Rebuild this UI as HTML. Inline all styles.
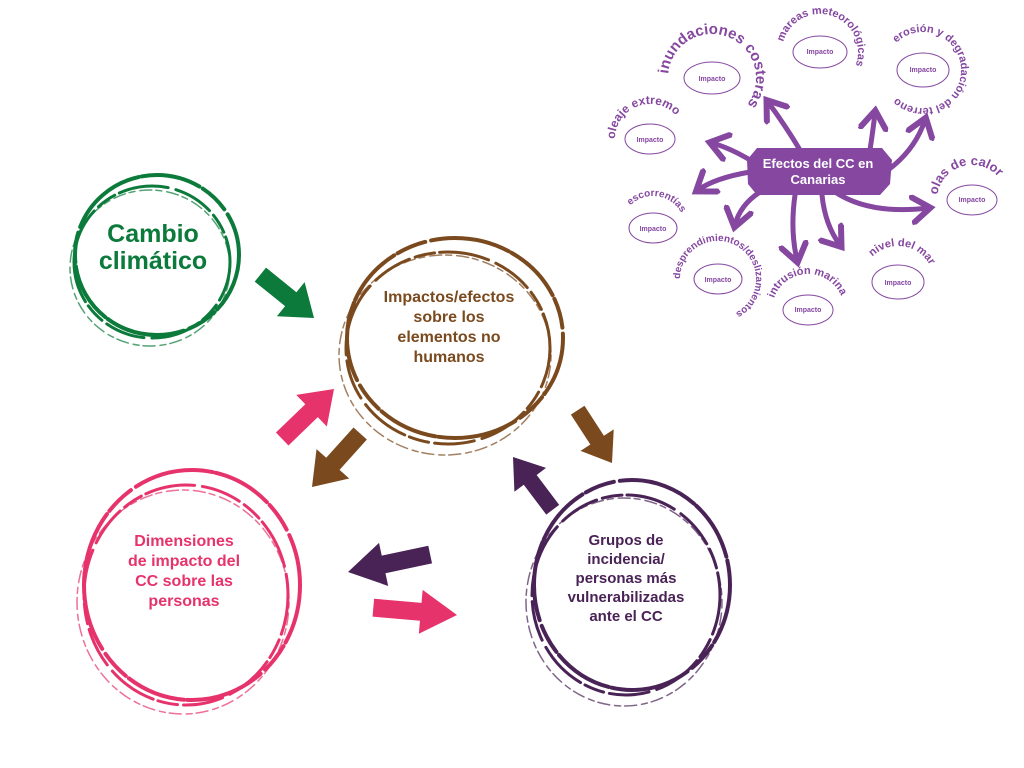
<!DOCTYPE html>
<html><head><meta charset="utf-8"><style>
html,body{margin:0;padding:0;background:#fff;width:1024px;height:768px;overflow:hidden}
svg text{font-family:"Liberation Sans",sans-serif;font-weight:bold}
</style></head><body>
<svg width="1024" height="768" viewBox="0 0 1024 768" xmlns="http://www.w3.org/2000/svg">
<defs>
<path id="ar" d="M0,0 L-26,-22 L-26,-9 L-60,-9 L-60,9 L-26,9 L-26,22 Z"/>
<marker id="mh" markerWidth="6" markerHeight="6" refX="3.5" refY="3" orient="auto" markerUnits="strokeWidth">
<path d="M0.5,0.5 L4,3 L0.5,5.5" fill="none" stroke="#8547a0" stroke-width="1.2" stroke-linecap="round"/></marker>
</defs>

<!-- Sketchy circles -->
<g fill="none" stroke="#0b7a3a" stroke-linecap="round">
<ellipse cx="157" cy="255" rx="82" ry="80" stroke-width="4" stroke-dasharray="60 4 30 6 80 3"/>
<ellipse cx="152" cy="262" rx="78" ry="76" stroke-width="3" stroke-dasharray="40 6 20 5 50 8"/>
<ellipse cx="150" cy="268" rx="80" ry="78" stroke-width="1.5" stroke-dasharray="6 5 12 4" opacity=".7"/>
</g>
<g fill="none" stroke="#7a4a1e" stroke-linecap="round">
<ellipse cx="455" cy="338" rx="108" ry="100" stroke-width="4" stroke-dasharray="60 4 30 6 80 3"/>
<ellipse cx="448" cy="348" rx="102" ry="96" stroke-width="3" stroke-dasharray="40 6 20 5 50 8"/>
<ellipse cx="445" cy="355" rx="106" ry="100" stroke-width="1.5" stroke-dasharray="6 5 12 4" opacity=".7"/>
</g>
<g fill="none" stroke="#e6336c" stroke-linecap="round">
<ellipse cx="192" cy="585" rx="108" ry="115" stroke-width="4" stroke-dasharray="60 4 30 6 80 3"/>
<ellipse cx="186" cy="595" rx="102" ry="110" stroke-width="3" stroke-dasharray="40 6 20 5 50 8"/>
<ellipse cx="183" cy="602" rx="106" ry="112" stroke-width="1.5" stroke-dasharray="6 5 12 4" opacity=".7"/>
</g>
<g fill="none" stroke="#4a2356" stroke-linecap="round">
<ellipse cx="632" cy="585" rx="98" ry="105" stroke-width="4" stroke-dasharray="60 4 30 6 80 3"/>
<ellipse cx="626" cy="595" rx="94" ry="100" stroke-width="3" stroke-dasharray="40 6 20 5 50 8"/>
<ellipse cx="624" cy="602" rx="98" ry="104" stroke-width="1.5" stroke-dasharray="6 5 12 4" opacity=".7"/>
</g>

<!-- Main labels -->
<text x="153" y="242" font-size="25" fill="#0b7a3a" text-anchor="middle">Cambio</text>
<text x="153" y="269" font-size="25" fill="#0b7a3a" text-anchor="middle">climático</text>
<g font-size="16" fill="#7a4a1e" text-anchor="middle">
<text x="449" y="302">Impactos/efectos</text>
<text x="449" y="322">sobre los</text>
<text x="449" y="342">elementos no</text>
<text x="449" y="362">humanos</text>
</g>
<g font-size="16" fill="#e6336c" text-anchor="middle">
<text x="184" y="546">Dimensiones</text>
<text x="184" y="566">de impacto del</text>
<text x="184" y="586">CC sobre las</text>
<text x="184" y="606">personas</text>
</g>
<g font-size="15" fill="#4a2356" text-anchor="middle">
<text x="626" y="545">Grupos de</text>
<text x="626" y="564">incidencia/</text>
<text x="626" y="583">personas más</text>
<text x="626" y="602">vulnerabilizadas</text>
<text x="626" y="621">ante el CC</text>
</g>

<!-- Block arrows -->
<use href="#ar" fill="#0b7a3a" transform="translate(314,318) rotate(39) scale(1.15,1)"/>
<use href="#ar" fill="#e6336c" transform="translate(334,389) rotate(-44) scale(1.2,1)"/>
<use href="#ar" fill="#7a4a1e" transform="translate(312,487) rotate(132) scale(1.2,1)"/>
<use href="#ar" fill="#7a4a1e" transform="translate(612,463) rotate(57) scale(1.05,0.9)"/>
<use href="#ar" fill="#4a2356" transform="translate(513,457) rotate(233) scale(1.1,0.9)"/>
<use href="#ar" fill="#4a2356" transform="translate(348,572) rotate(168) scale(1.4,1)"/>
<use href="#ar" fill="#e6336c" transform="translate(457,615) rotate(5) scale(1.4,1)"/>

<!-- Mini diagram -->
<g fill="none" stroke="#8547a0" stroke-width="5" stroke-linecap="round" marker-end="url(#mh)">
<path d="M800,150 Q785,125 768,102"/>
<path d="M870,150 Q873,130 875,113"/>
<path d="M888,170 Q915,150 925,120"/>
<path d="M750,160 Q730,148 712,143"/>
<path d="M750,172 Q715,178 698,190"/>
<path d="M760,192 Q740,205 735,225"/>
<path d="M795,195 Q790,230 797,260"/>
<path d="M822,195 Q825,225 840,245"/>
<path d="M835,192 Q870,215 928,208"/>
</g>
<path d="M757,148 L882,148 L892,160 L890,184 L880,195 L757,195 L748,184 L747,160 Z" fill="#8547a0"/>
<text x="818" y="168" font-size="13" fill="#fff" text-anchor="middle">Efectos del CC en</text>
<text x="818" y="184" font-size="13" fill="#fff" text-anchor="middle">Canarias</text>

<g fill="none" stroke="#8547a0" stroke-width="1">
<ellipse cx="712" cy="78" rx="28" ry="16"/>
<ellipse cx="820" cy="52" rx="27" ry="16"/>
<ellipse cx="923" cy="70" rx="26" ry="17"/>
<ellipse cx="650" cy="139" rx="25" ry="15"/>
<ellipse cx="972" cy="200" rx="25" ry="15"/>
<ellipse cx="653" cy="228" rx="24" ry="15"/>
<ellipse cx="718" cy="279" rx="24" ry="15"/>
<ellipse cx="808" cy="310" rx="25" ry="15"/>
<ellipse cx="898" cy="282" rx="26" ry="17"/>
</g>
<g font-size="7" fill="#8547a0" text-anchor="middle" font-weight="normal">
<text x="712" y="81">Impacto</text><text x="820" y="54">Impacto</text><text x="923" y="72">Impacto</text>
<text x="650" y="142">Impacto</text><text x="972" y="202">Impacto</text><text x="653" y="231">Impacto</text>
<text x="718" y="282">Impacto</text><text x="808" y="312">Impacto</text><text x="898" y="285">Impacto</text>
</g>

<defs>
<path id="c1" d="M668,78 A44,44 0 1 1 756,78 A44,44 0 1 1 668,78"/>
<path id="c2" d="M782,52 A38,38 0 1 1 858,52 A38,38 0 1 1 782,52"/>
<path id="c3" d="M885,70 A38,38 0 1 1 961,70 A38,38 0 1 1 885,70"/>
<path id="c4" d="M615,139 A35,35 0 1 1 685,139 A35,35 0 1 1 615,139"/>
<path id="c5" d="M937,200 A35,35 0 1 1 1007,200 A35,35 0 1 1 937,200"/>
<path id="c6" d="M621,228 A32,32 0 1 1 685,228 A32,32 0 1 1 621,228"/>
<path id="c7" d="M680,279 A38,38 0 1 1 756,279 A38,38 0 1 1 680,279"/>
<path id="c8" d="M772,310 A36,36 0 1 1 844,310 A36,36 0 1 1 772,310"/>
<path id="c9" d="M862,282 A36,36 0 1 1 934,282 A36,36 0 1 1 862,282"/>
</defs>
<g fill="#8547a0">
<text font-size="15"><textPath href="#c1" startOffset="4">inundaciones costeras</textPath></text>
<text font-size="11"><textPath href="#c2" startOffset="10">mareas meteorológicas</textPath></text>
<text font-size="11"><textPath href="#c3" startOffset="30">erosión y degradación del terreno</textPath></text>
<text font-size="12"><textPath href="#c4" startOffset="0">oleaje extremo</textPath></text>
<text font-size="13"><textPath href="#c5" startOffset="5">olas de calor</textPath></text>
<text font-size="10"><textPath href="#c6" startOffset="25">escorrentías</textPath></text>
<text font-size="10"><textPath href="#c7" startOffset="0">desprendimientos/deslizamientos</textPath></text>
<text font-size="11"><textPath href="#c8" startOffset="12">intrusión marina</textPath></text>
<text font-size="11"><textPath href="#c9" startOffset="28">nivel del mar</textPath></text>
</g>
</svg>
</body></html>
